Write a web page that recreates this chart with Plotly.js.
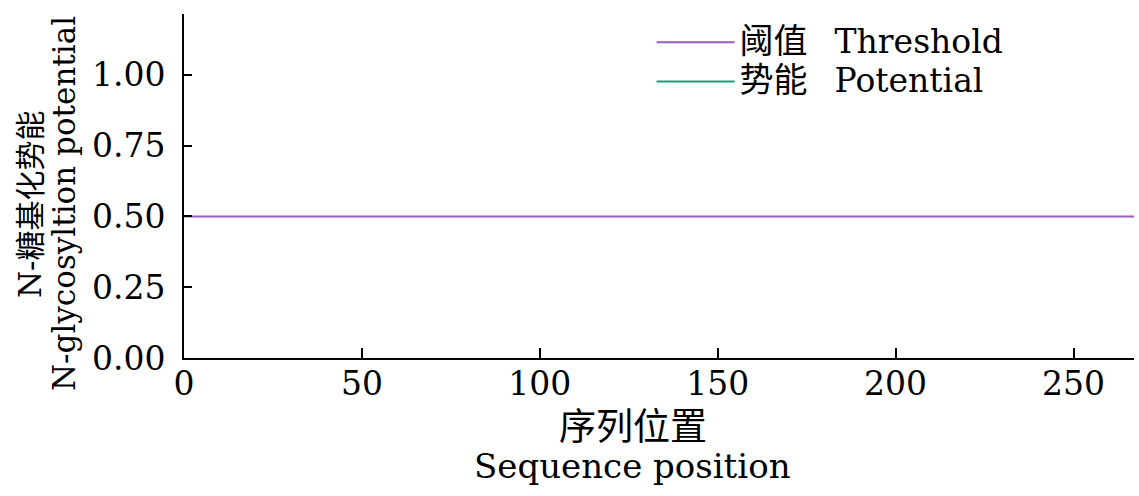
<!DOCTYPE html>
<html><head><meta charset="utf-8">
<script src="https://cdn.plot.ly/plotly-3.0.1.min.js"></script>
<style>html,body{margin:0;padding:0;background:#fff;}#chart{width:1139px;height:496px;}</style>
</head><body><div id="chart"></div>
<script>
const thresholdX = [0, 270];
const thresholdY = [0.5, 0.5];
const potentialX = [0];
const potentialY = [null];
const seriesNamesZh = ['阈值', '势能'];
const seriesNamesEn = ['Threshold', 'Potential'];
const xTickVals = [0, 50, 100, 150, 200, 250];
const yTickVals = [0, 0.25, 0.5, 0.75, 1.0];
const yTickText = ['0.00', '0.25', '0.50', '0.75', '1.00'];
const xTitleZh = '序列位置';
const xTitleEn = 'Sequence position';
const yTitleZh = 'N-糖基化势能';
const yTitleEn = 'N-glycosyltion potential';

const FONT = '"DejaVu Serif", "Noto Sans CJK SC", serif';
const CJK = '\'Noto Sans CJK SC\'';
const zh = (s, sz) => '<span style="font-family:' + CJK + ';font-size:' + sz + 'px">' + s + '</span>';
const en = (s, sz) => '<span style="font-size:' + sz + 'px">' + s + '</span>';

const traces = [
  {x: thresholdX, y: thresholdY, type: 'scatter', mode: 'lines',
   name: zh(seriesNamesZh[0], 34) + en('\u2002 ' + seriesNamesEn[0], 33),
   line: {color: '#9a5bbd', width: 2}},
  {x: potentialX, y: potentialY, type: 'scatter', mode: 'lines',
   name: zh(seriesNamesZh[1], 34) + en('\u2002 ' + seriesNamesEn[1], 33),
   line: {color: '#1f9a78', width: 2}}
];

const ann = (text, x, y, size, angle) => ({
  text: text, xref: 'paper', yref: 'paper', x: x, y: y, xanchor: 'center', yanchor: 'middle',
  showarrow: false, textangle: angle, font: {family: FONT, size: size, color: '#000'}
});

const layout = {
  width: 1139, height: 496,
  margin: {l: 184, r: 5, t: 14, b: 138},
  paper_bgcolor: '#fff', plot_bgcolor: '#fff',
  font: {family: FONT, size: 33, color: '#000'},
  showlegend: true,
  legend: {x: 0.4922, y: 0.99, xanchor: 'left', yanchor: 'top', bgcolor: 'rgba(0,0,0,0)',
           font: {family: FONT, size: 28}, tracegroupgap: 0, itemwidth: 78},
  xaxis: {
    range: [0, 267], tickvals: xTickVals, ticks: 'inside', ticklen: 10, tickwidth: 2,
    tickcolor: '#000', showline: true, linecolor: '#000', linewidth: 2,
    showgrid: false, zeroline: false, tickfont: {size: 33}, ticklabelstandoff: -5
  },
  yaxis: {
    range: [0, 1.215], tickvals: yTickVals, ticktext: yTickText, ticks: 'inside', ticklen: 8,
    tickwidth: 2, tickcolor: '#000', showline: true, linecolor: '#000', linewidth: 2,
    showgrid: false, zeroline: false, tickfont: {size: 33}, ticklabelstandoff: 10
  },
  annotations: [
    ann(zh(xTitleZh, 37), 0.4726, -0.192, 34, 0),
    ann(xTitleEn, 0.4726, -0.314, 34, 0),
    ann('N-' + zh(yTitleZh.slice(2), 30), -0.1642, 0.4477, 31, -90),
    ann(yTitleEn, -0.1263, 0.4477, 31, -90)
  ]
};

Plotly.newPlot('chart', traces, layout, {displayModeBar: false, staticPlot: true});
</script></body></html>
